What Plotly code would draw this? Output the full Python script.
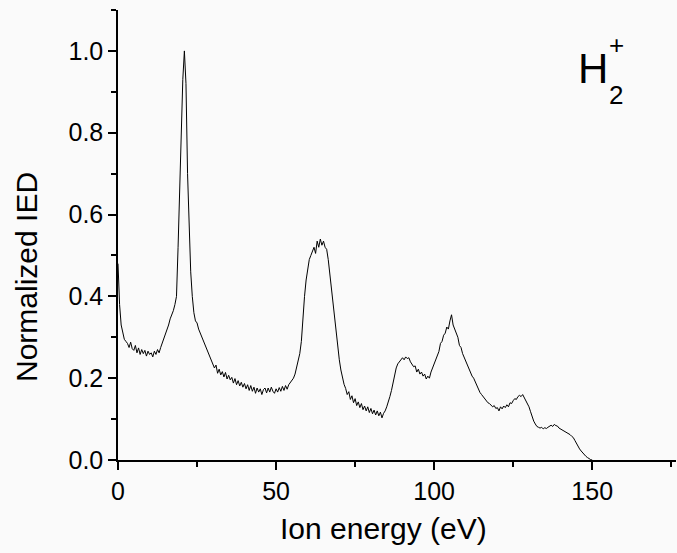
import plotly.graph_objects as go

# Ion energy grid (eV), 0.5 eV steps from 0 to 150
energy = [i * 0.5 for i in range(301)]

# Normalized IED values (0.5 eV steps)
ied = [
    # 0 - 10
    0.48, 0.38, 0.33, 0.31, 0.295, 0.29, 0.285, 0.275, 0.288, 0.272,
    0.268, 0.28, 0.262, 0.274, 0.258, 0.27, 0.26, 0.268, 0.254, 0.266,
    # 10 - 20
    0.258, 0.262, 0.252, 0.266, 0.258, 0.27, 0.262, 0.275, 0.285, 0.30,
    0.31, 0.32, 0.33, 0.345, 0.355, 0.365, 0.38, 0.40, 0.52, 0.68,
    # 20 - 30
    0.82, 0.93, 1.0, 0.92, 0.70, 0.58, 0.46, 0.40, 0.36, 0.34,
    0.335, 0.32, 0.31, 0.30, 0.29, 0.285, 0.27, 0.265, 0.25, 0.245,
    # 30 - 40
    0.23, 0.225, 0.232, 0.212, 0.222, 0.208, 0.216, 0.203, 0.214, 0.198,
    0.207, 0.196, 0.202, 0.188, 0.199, 0.184, 0.194, 0.181, 0.19, 0.178,
    # 40 - 50
    0.187, 0.174, 0.184, 0.17, 0.182, 0.168, 0.178, 0.163, 0.176, 0.166,
    0.174, 0.16, 0.172, 0.176, 0.164, 0.176, 0.166, 0.178, 0.168, 0.163,
    # 50 - 60
    0.174, 0.166, 0.177, 0.168, 0.18, 0.17, 0.182, 0.173, 0.184, 0.19,
    0.195, 0.20, 0.21, 0.225, 0.245, 0.26, 0.29, 0.35, 0.40, 0.44,
    # 60 - 70
    0.47, 0.49, 0.50, 0.51, 0.52, 0.505, 0.535, 0.52, 0.54, 0.525,
    0.535, 0.52, 0.515, 0.49, 0.455, 0.42, 0.38, 0.34, 0.30, 0.27,
    # 70 - 80
    0.245, 0.22, 0.20, 0.185, 0.175, 0.16, 0.167, 0.148, 0.157, 0.14,
    0.15, 0.133, 0.142, 0.128, 0.138, 0.123, 0.132, 0.12, 0.13, 0.116,
    # 80 - 90
    0.126, 0.113, 0.122, 0.11, 0.12, 0.108, 0.117, 0.103, 0.114, 0.12,
    0.13, 0.14, 0.155, 0.17, 0.19, 0.21, 0.225, 0.235, 0.24, 0.245,
    # 90 - 100
    0.25, 0.245, 0.252, 0.248, 0.25, 0.24, 0.235, 0.228, 0.23, 0.215,
    0.222, 0.21, 0.215, 0.205, 0.21, 0.198, 0.205, 0.20, 0.215, 0.225,
    # 100 - 110
    0.235, 0.245, 0.26, 0.265, 0.285, 0.29, 0.305, 0.31, 0.325, 0.32,
    0.34, 0.355, 0.33, 0.32, 0.305, 0.30, 0.28, 0.275, 0.26, 0.25,
    # 110 - 120
    0.24, 0.23, 0.225, 0.215, 0.205, 0.20, 0.19, 0.18, 0.172, 0.165,
    0.16, 0.155, 0.148, 0.145, 0.14, 0.138, 0.135, 0.13, 0.133, 0.126,
    # 120 - 130
    0.128, 0.12, 0.13, 0.125, 0.132, 0.128, 0.135, 0.13, 0.14, 0.138,
    0.145, 0.15, 0.148, 0.155, 0.158, 0.155, 0.16, 0.152, 0.148, 0.14,
    # 130 - 140
    0.13, 0.118, 0.105, 0.095, 0.088, 0.082, 0.08, 0.078, 0.08, 0.076,
    0.079, 0.077, 0.08, 0.082, 0.085, 0.082, 0.087, 0.084, 0.083, 0.078,
    # 140 - 150
    0.076, 0.074, 0.072, 0.07, 0.068, 0.066, 0.062, 0.058, 0.055, 0.048,
    0.04, 0.033, 0.027, 0.022, 0.017, 0.013, 0.009, 0.006, 0.003, 0.001,
    # 150
    0.0,
]

x_ticks = [0, 50, 100, 150]
y_ticks = [0.0, 0.2, 0.4, 0.6, 0.8, 1.0]
y_tick_labels = ["0.0", "0.2", "0.4", "0.6", "0.8", "1.0"]

font_family = "Liberation Sans, Arial, sans-serif"

fig = go.Figure()
fig.add_trace(go.Scatter(
    x=energy, y=ied, mode="lines",
    line=dict(color="black", width=1),
    showlegend=False,
))

fig.update_layout(
    width=677, height=553,
    margin=dict(l=118, r=1, t=10, b=93),
    paper_bgcolor="#fafafa",
    plot_bgcolor="#fafafa",
    font=dict(family=font_family, color="black"),
    xaxis=dict(
        range=[0, 176.5], tickvals=x_ticks, ticktext=[str(v) for v in x_ticks],
        showline=True, linecolor="black", linewidth=1.5,
        ticks="outside", ticklen=8, tickwidth=1.5, tickcolor="black",
        minor=dict(dtick=25, tick0=0, ticks="outside", ticklen=5, tickwidth=1.5, tickcolor="black"),
        showgrid=False, zeroline=False,
        tickfont=dict(size=25, family=font_family),
    ),
    yaxis=dict(
        range=[0, 1.1], tickvals=y_ticks, ticktext=y_tick_labels,
        showline=True, linecolor="black", linewidth=1.5,
        ticks="outside", ticklen=8, tickwidth=1.5, tickcolor="black",
        minor=dict(dtick=0.1, tick0=0, ticks="outside", ticklen=5, tickwidth=1.5, tickcolor="black"),
        showgrid=False, zeroline=False,
        tickfont=dict(size=25, family=font_family),
    ),
)

# Axis titles (positioned as in the reference)
fig.add_annotation(text="Ion energy (eV)", xref="paper", yref="paper",
                   x=(383 - 118) / 558, y=-(528 - 460) / 450,
                   showarrow=False, font=dict(size=30, family=font_family, color="black"),
                   xanchor="center", yanchor="middle")
fig.add_annotation(text="Normalized IED", xref="paper", yref="paper",
                   x=(27 - 118) / 558, y=(460 - 277) / 450, textangle=-90,
                   showarrow=False, font=dict(size=30, family=font_family, color="black"),
                   xanchor="center", yanchor="middle")

fig.add_annotation(text="H", xref="paper", yref="paper", x=0.852, y=0.87,
                   showarrow=False, font=dict(size=42, family=font_family, color="black"),
                   xanchor="center", yanchor="middle")
fig.add_annotation(text="+", xref="paper", yref="paper", x=0.893, y=0.922,
                   showarrow=False, font=dict(size=26, family=font_family, color="black"),
                   xanchor="center", yanchor="middle")
fig.add_annotation(text="2", xref="paper", yref="paper", x=0.893, y=0.81,
                   showarrow=False, font=dict(size=26, family=font_family, color="black"),
                   xanchor="center", yanchor="middle")

fig.write_html("out.html")
